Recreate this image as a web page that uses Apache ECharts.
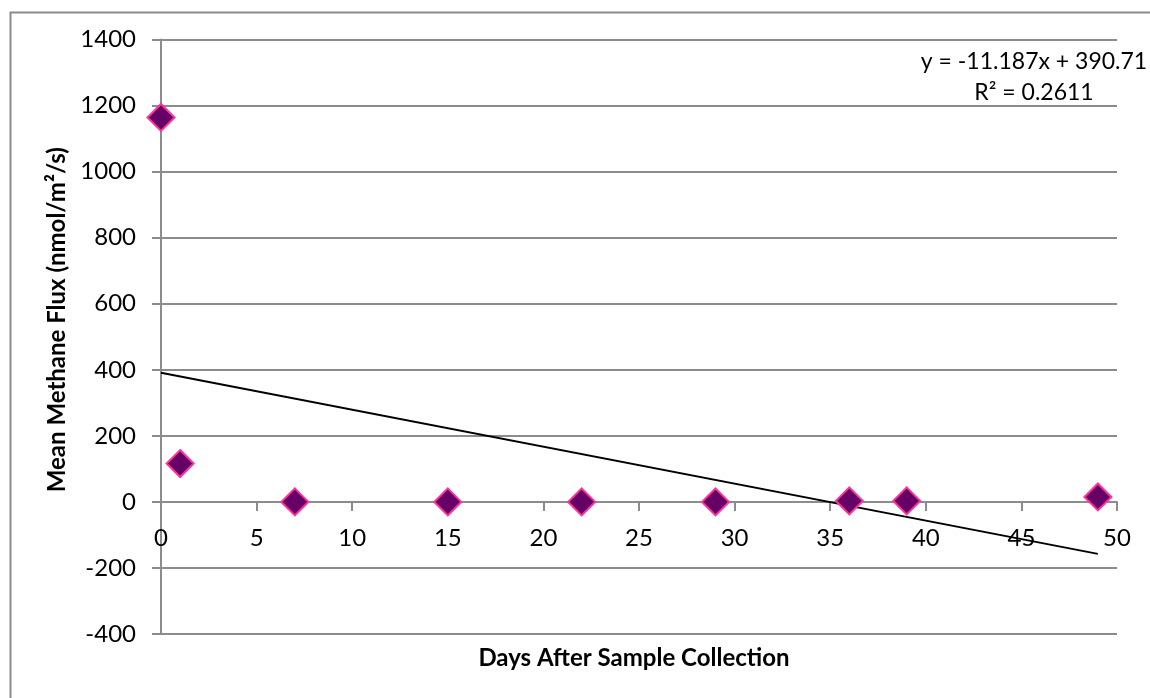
<!DOCTYPE html>
<html>
<head>
<meta charset="utf-8">
<script src="https://cdn.jsdelivr.net/npm/echarts@6/dist/echarts.min.js"></script>
<style>
html,body{margin:0;padding:0;background:#fff;}
#chart{width:1150px;height:698px;}
</style>
</head>
<body>
<div id="chart"></div>
<script>
// Data
const days = [0, 1, 7, 15, 22, 29, 36, 39, 49];
const methaneFlux = [1164, 116, 0, 0, 0, 0, 3, 3, 15];
// Linear trendline endpoints (y = -11.187x + 390.71)
const trendX = [0, 49];
const trendY = [390.71, -157.45];
const equationText = 'y = -11.187x + 390.71';
const r2Text = 'R² = 0.2611';
const yTicks = [-400, 1400, 200];
const xTicks = [0, 50, 5];

const FONT = 'Lato';
const chart = echarts.init(document.getElementById('chart'), null, {renderer: 'canvas'});
const gridColor = '#8c8c8c';
const gridTop = 39.5, gridBottom = 64;
const plotH = 698 - gridTop - gridBottom;
// distance from bottom of the plot to the zero line
const zeroOffset = plotH * (0 - yTicks[0]) / (yTicks[1] - yTicks[0]);

chart.setOption({
  backgroundColor: '#fff',
  animation: false,
  grid: {left: 161, right: 33, top: gridTop, bottom: gridBottom, containLabel: false, outerBoundsMode: 'none'},
  xAxis: {
    type: 'value',
    min: xTicks[0], max: xTicks[1], interval: xTicks[2],
    position: 'bottom',
    offset: -zeroOffset,
    name: 'Days After Sample Collection',
    nameLocation: 'middle',
    nameGap: 144,
    nameTextStyle: {fontFamily: FONT, fontWeight: 'bold', fontSize: 24, color: '#000', padding: [0, 10, 0, 0]},
    axisLine: {onZero: false, lineStyle: {color: gridColor, width: 2}},
    axisTick: {show: true, length: 9, lineStyle: {color: gridColor, width: 2}},
    axisLabel: {fontFamily: FONT, fontSize: 24, color: '#000', margin: 24, formatter: v => String(v)},
    splitLine: {show: false}
  },
  yAxis: {
    type: 'value',
    min: yTicks[0], max: yTicks[1], interval: yTicks[2],
    name: 'Mean Methane Flux (nmol/m²/s)',
    nameLocation: 'middle',
    nameGap: 92,
    nameRotate: 90,
    nameTextStyle: {fontFamily: FONT, fontWeight: 'bold', fontSize: 24, color: '#000', padding: [0, 0, 0, 34]},
    axisLine: {show: true, onZero: false, lineStyle: {color: gridColor, width: 2}},
    axisTick: {show: true, length: 9, lineStyle: {color: gridColor, width: 2}},
    axisLabel: {fontFamily: FONT, fontSize: 24, color: '#000', margin: 25, formatter: v => String(v)},
    splitLine: {show: true, lineStyle: {color: gridColor, width: 2}}
  },
  graphic: [
    {type: 'rect', left: 8, top: 10, shape: {width: 1200, height: 800},
     style: {fill: 'none', stroke: '#8c8c8c', lineWidth: 2}, z: -1, silent: true},
    {type: 'text', x: 1034, y: 62, style: {text: equationText, fontFamily: FONT, fontSize: 23, fill: '#000', align: 'center', verticalAlign: 'middle'}},
    {type: 'text', x: 1034, y: 93, style: {text: r2Text, fontFamily: FONT, fontSize: 23, fill: '#000', align: 'center', verticalAlign: 'middle'}}
  ],
  series: [
    {
      type: 'line',
      data: trendX.map((x, i) => [x, trendY[i]]),
      showSymbol: false,
      lineStyle: {color: '#000', width: 2},
      z: 3
    },
    {
      type: 'scatter',
      data: days.map((d, i) => [d, methaneFlux[i]]),
      symbol: 'diamond',
      symbolSize: 27,
      itemStyle: {color: '#660066', borderColor: '#ff3399', borderWidth: 2, opacity: 1},
      z: 4
    }
  ]
});
</script>
</body>
</html>
